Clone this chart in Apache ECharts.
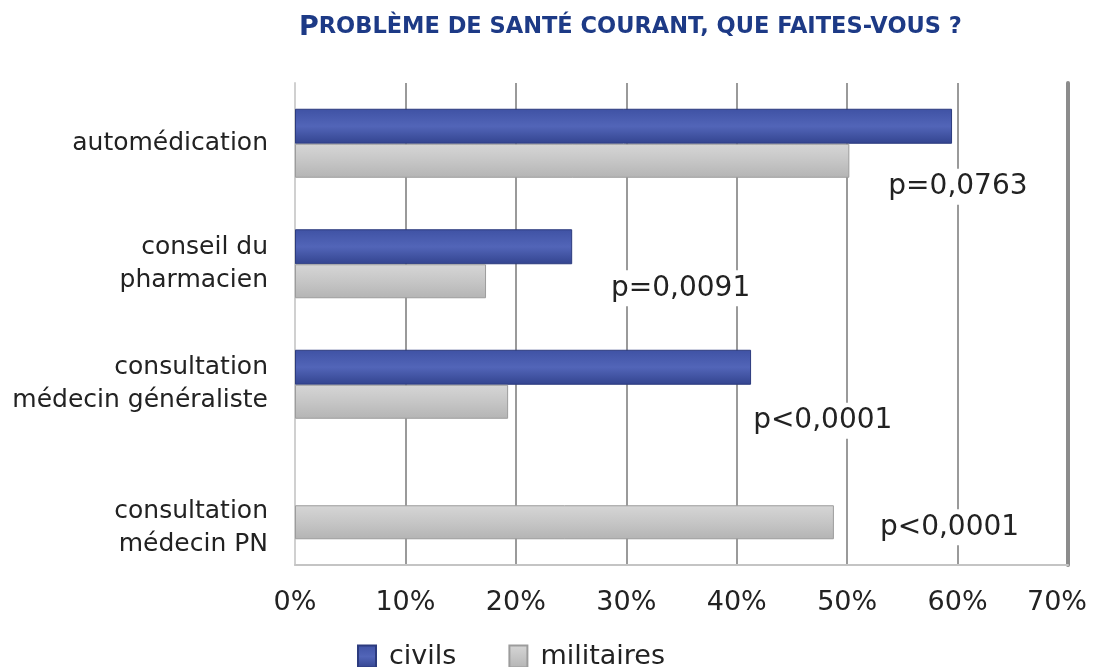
<!DOCTYPE html>
<html>
<head>
<meta charset="utf-8">
<script src="https://cdn.jsdelivr.net/npm/echarts@6/dist/echarts.min.js"></script>
<style>
  html, body { margin: 0; padding: 0; background: #fff; }
  #chart { width: 1094px; height: 667px; }
</style>
</head>
<body>
<div id="chart"></div>
<script>
// données
const categories = ['automédication', 'conseil du\npharmacien', 'consultation\nmédecin généraliste', 'consultation\nmédecin PN']
const civils = [59.5, 25.1, 41.3, 0]
const militaires = [50.2, 17.3, 19.3, 48.8]
const pValues = ['p=0,0763', 'p=0,0091', 'p<0,0001', 'p<0,0001']
const seriesNames = ['civils', 'militaires']

// décalage des étiquettes p par rapport au bout de la barre militaires
const pOffsets = [[30, 26], [116, 7], [236, 19], [37, 5]]

const font = 'DejaVu Sans'

const option = {
  animation: false,
  title: {
    text: '{a|P}{b|ROBLÈME DE SANTÉ COURANT, QUE FAITES-VOUS ?}',
    left: 294,
    top: 9,
    textStyle: {
      rich: {
        a: { fontFamily: font, fontWeight: 'bold', fontSize: 27, color: '#1d3a86' },
        b: { fontFamily: font, fontWeight: 'bold', fontSize: 22.5, color: '#1d3a86' }
      }
    }
  },
  legend: {
    data: seriesNames,
    icon: 'rect',
    left: 357,
    top: 643,
    padding: 0,
    itemGap: 52,
    itemWidth: 18,
    itemHeight: 22,
    textStyle: { fontFamily: font, fontSize: 27, color: '#222', padding: [0, 0, 0, 8] }
  },
  grid: { left: 295, right: 26, top: 83, bottom: 102, outerBoundsMode: 'none' },
  xAxis: {
    type: 'value',
    min: 0,
    max: 70,
    interval: 10,
    axisLine: { show: true, lineStyle: { color: '#c4c4c4', width: 2 } },
    axisTick: { show: false },
    axisLabel: {
      formatter: v => v === 70 ? '{m|' + v + '%}' : v + '%',
      margin: 24,
      fontFamily: font,
      fontSize: 27,
      color: '#222',
      rich: { m: { fontFamily: font, fontSize: 27, color: '#222', padding: [0, 22, 0, 0] } }
    },
    splitLine: { show: true, lineStyle: { color: '#9a9a9a', width: 2 } }
  },
  yAxis: [
    {
      type: 'category',
      inverse: true,
      data: categories,
      axisLine: { show: true, lineStyle: { color: '#d0d0d0', width: 2 } },
      axisTick: { show: false },
      axisLabel: {
        margin: 27,
        fontFamily: font,
        fontSize: 25,
        lineHeight: 33,
        color: '#222',
        align: 'right',
        // la dernière étiquette est plus basse sur l'original
        formatter: (v, i) => i === 3 ? '{s| }\n' + v : v,
        rich: { s: { fontSize: 10, lineHeight: 46 } }
      }
    },
    {
      type: 'category',
      inverse: true,
      position: 'right',
      data: categories,
      axisLine: { show: true, lineStyle: { color: '#8c8c8c', width: 4 } },
      axisTick: { show: false },
      axisLabel: { show: false }
    }
  ],
  series: [
    {
      name: 'civils',
      type: 'bar',
      data: civils.map(v => v === 0 ? { value: v, itemStyle: { borderWidth: 0 } } : v),
      barWidth: 35,
      barGap: '0%',
      itemStyle: {
        color: new echarts.graphic.LinearGradient(0, 0, 0, 1, [
          { offset: 0, color: '#3f52a4' },
          { offset: 0.5, color: '#5265b8' },
          { offset: 1, color: '#33448f' }
        ]),
        borderColor: '#2c3b7e',
        borderWidth: 1
      }
    },
    {
      name: 'militaires',
      type: 'bar',
      data: militaires.map((v, i) => ({
        value: v,
        label: {
          show: true,
          position: 'right',
          offset: pOffsets[i],
          formatter: pValues[i]
        }
      })),
      barWidth: 34,
      itemStyle: {
        color: new echarts.graphic.LinearGradient(0, 0, 0, 1, [
          { offset: 0, color: '#d6d6d6' },
          { offset: 0.5, color: '#c6c6c6' },
          { offset: 1, color: '#b4b4b4' }
        ]),
        borderColor: '#9c9c9c',
        borderWidth: 1
      },
      label: {
        fontFamily: font,
        fontSize: 28,
        color: '#222',
        backgroundColor: '#fff',
        padding: [4, 4]
      }
    }
  ]
}

const chart = echarts.init(document.getElementById('chart'))
chart.setOption(option)
</script>
</body>
</html>
